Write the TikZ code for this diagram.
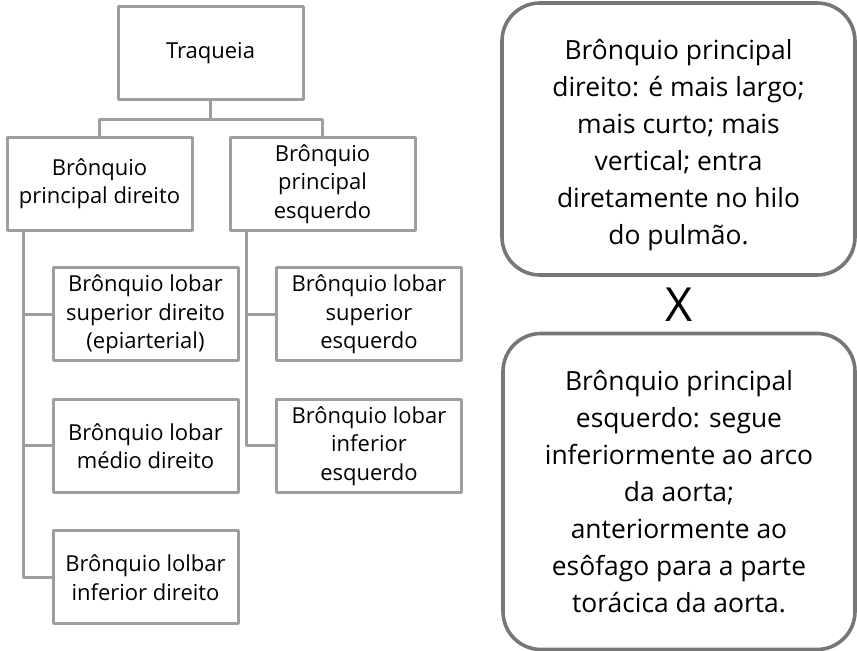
\documentclass[tikz,border=0pt]{standalone}
\usepackage{fontspec}
\setmainfont{Open Sans}
\definecolor{cinza}{RGB}{158,158,158}
\definecolor{cinzaesc}{RGB}{118,118,118}
\tikzset{
	caixa/.style={draw=cinza,line width=1.5pt,minimum width=92.5pt,minimum height=46.5pt,inner sep=0pt,align=center,font=\fontsize{11}{14.2}\selectfont},
	nota/.style={draw=cinzaesc,line width=1.8pt,rounded corners=19pt,minimum width=176.5pt,inner sep=0pt,align=center,font=\fontsize{13.2}{18.5}\selectfont},
	liga/.style={draw=cinza,line width=1.5pt}
}
\begin{document}
\begin{tikzpicture}[x=0.5pt,y=-0.5pt,line join=round]
	\useasboundingbox (0,0) rectangle (857,651);
	%árvore dos brônquios
	\foreach \p/\x/\y/\t in {traq/210.5/53.5/{Traqueia},dir/99.5/184/{Brônquio\\principal direito},esq/322.5/184/{Brônquio\\principal\\esquerdo},lsd/145.5/314.5/{Brônquio lobar\\superior direito\\(epiarterial)},lmd/145.5/446/{Brônquio lobar\\médio direito},lid/145.5/577.5/{Brônquio lolbar\\inferior direito},lse/369/314.5/{Brônquio lobar\\superior\\esquerdo},lie/369/446/{Brônquio lobar\\inferior\\esquerdo}}
	\node[caixa] (\p) at (\x,\y) {\t};
	\draw[liga] (traq.south)--++(0,18)coordinate(T)-|(dir.north) (T)-|(esq.north);
	\coordinate (D) at ([xshift=9pt]dir.south west);
	\coordinate (E) at ([xshift=9pt]esq.south west);
	\foreach \p in {lsd,lmd,lid} \draw[liga] (D)|-(\p.west);
	\foreach \p in {lse,lie} \draw[liga] (E)|-(\p.west);
	%comparação
	\node[nota,minimum height=136pt] (n1) at (678.5,139) {\rule{0pt}{16pt}Brônquio principal\\direito: é mais largo;\\mais curto; mais\\vertical; entra\\diretamente no hilo\\do pulmão.};
	\node[font=\fontsize{23.5}{23.5}\selectfont] (X) at (679,305) {X};
	\node[nota,minimum height=158pt,minimum width=176pt] (n2) at (679,491.5) {Brônquio principal\\esquerdo: segue\\inferiormente ao arco\\da aorta;\\anteriormente ao\\esôfago para a parte\\torácica da aorta.};
\end{tikzpicture}
\end{document}
